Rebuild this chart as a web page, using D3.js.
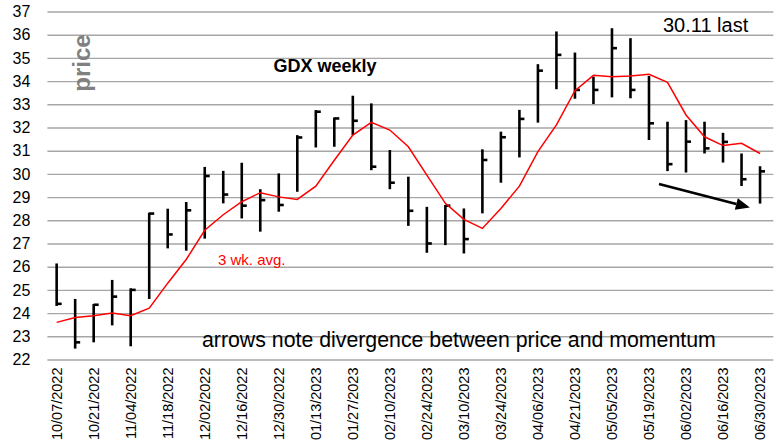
<!doctype html>
<html lang="en-US">
<head>
  <meta charset="utf-8">
  <title>GDX weekly</title>
  <script src="https://d3js.org/d3.v7.min.js"></script>
  <style>
    body { margin: 0; background: #fff; }
    svg { display: block; font-family: "Liberation Sans", Arial, sans-serif; }
  </style>
</head>
<body>
<svg width="781" height="444"></svg>
<script>
// weekly bars, 10/07/2022 .. 06/30/2023
var dates = ["10/07/2022","10/14/2022","10/21/2022","10/28/2022","11/04/2022","11/11/2022","11/18/2022","11/25/2022",
  "12/02/2022","12/09/2022","12/16/2022","12/23/2022","12/30/2022","01/06/2023","01/13/2023","01/20/2023",
  "01/27/2023","02/03/2023","02/10/2023","02/17/2023","02/24/2023","03/03/2023","03/10/2023","03/17/2023",
  "03/24/2023","03/31/2023","04/06/2023","04/14/2023","04/21/2023","04/28/2023","05/05/2023","05/12/2023",
  "05/19/2023","05/26/2023","06/02/2023","06/09/2023","06/16/2023","06/23/2023","06/30/2023"];

var highs = [26.14, 24.61, 24.39, 25.43, 25.07, 28.33, 28.50, 28.79, 30.30, 30.13, 30.48, 29.34, 30.02,
  31.67, 32.75, 32.43, 33.37, 33.04, 31.03, 29.88, 28.58, 28.66, 28.51, 31.06, 31.82, 32.76,
  34.73, 36.14, 35.23, 34.19, 36.28, 35.85, 34.22, 32.25, 32.32, 32.25, 31.77, 30.88, 30.33];

var lows = [24.31, 22.47, 22.74, 23.47, 22.57, 24.61, 26.79, 26.69, 27.21, 28.73, 28.08, 27.51, 28.37,
  29.23, 31.14, 31.17, 31.67, 30.16, 29.34, 27.76, 26.60, 26.93, 26.57, 28.30, 29.62, 30.71,
  32.21, 33.65, 33.24, 33.01, 33.30, 33.26, 31.46, 30.12, 30.06, 30.88, 30.49, 29.48, 28.72];

var closes = [24.40, 22.74, 24.36, 24.71, 25.00, 28.29, 27.39, 28.43, 29.91, 29.11, 28.63, 28.87, 28.66,
  31.57, 32.68, 32.39, 32.29, 30.31, 29.62, 28.41, 27.00, 28.63, 27.19, 30.60, 31.58, 32.37,
  34.45, 35.13, 33.62, 33.62, 35.42, 33.62, 32.18, 30.42, 31.39, 31.10, 31.38, 29.77, 30.11];

// 3 wk. avg.
var avg3 = [23.60, 23.81, 23.89, 24.00, 23.89, 24.21, 25.29, 26.31, 27.57, 28.24, 28.80, 29.19, 29.01,
  28.90, 29.47, 30.59, 31.67, 32.22, 31.89, 31.17, 29.95, 28.73, 28.04, 27.65, 28.51, 29.47,
  30.96, 32.11, 33.59, 34.25, 34.19, 34.22, 34.29, 33.95, 32.54, 31.60, 31.22, 31.32, 30.88];

var yTicks = d3.range(22, 38, 1);

var svg = d3.select("svg");
var plotL = 47.4, plotR = 769.3, plotT = 11.5, plotB = 359.5;

var x = d3.scaleBand().domain(d3.range(dates.length)).range([plotL, plotR]).padding(0);
var y = d3.scaleLinear().domain([22, 37]).range([plotB, plotT]);
var cx = function(i) { return x(i) + x.bandwidth() / 2; };

// gridlines + y labels
var yAxis = svg.append("g")
  .attr("transform", "translate(" + plotL + ",0)")
  .call(d3.axisLeft(y).tickValues(yTicks).tickSize(-(plotR + 4 - plotL)).tickPadding(17).tickFormat(d3.format("d")));
yAxis.select(".domain").remove();
yAxis.selectAll("line").attr("stroke", "#a6a6a6").attr("stroke-width", 1.4);
yAxis.selectAll("text").attr("font-size", 16).attr("fill", "#000");

// x labels (every other week)
var xAxis = svg.append("g")
  .attr("transform", "translate(0," + (plotB + 8) + ")")
  .call(d3.axisBottom(x).tickValues(d3.range(0, dates.length, 2)).tickSize(0)
    .tickFormat(function(i) { return dates[i]; }));
xAxis.select(".domain").remove();
xAxis.selectAll("text")
  .attr("font-size", 14.5)
  .attr("fill", "#000")
  .attr("text-anchor", "end")
  .attr("transform", "rotate(-90)")
  .attr("x", 0).attr("y", 0).attr("dy", "0.35em");

// high-low bars
var bars = svg.append("g");
bars.selectAll(".hl").data(dates).enter().append("line")
  .attr("x1", function(d, i) { return cx(i); })
  .attr("x2", function(d, i) { return cx(i); })
  .attr("y1", function(d, i) { return y(highs[i]); })
  .attr("y2", function(d, i) { return y(lows[i]); })
  .attr("stroke", "#000").attr("stroke-width", 2.6);

// close ticks
bars.selectAll(".cl").data(dates).enter().append("line")
  .attr("x1", function(d, i) { return cx(i); })
  .attr("x2", function(d, i) { return cx(i) + 5; })
  .attr("y1", function(d, i) { return y(closes[i]); })
  .attr("y2", function(d, i) { return y(closes[i]); })
  .attr("stroke", "#000").attr("stroke-width", 2.6);

// 3 week average line
var line = d3.line()
  .x(function(d, i) { return cx(i); })
  .y(function(d) { return y(d); });
svg.append("path").datum(avg3)
  .attr("d", line)
  .attr("fill", "none")
  .attr("stroke", "#ff0000")
  .attr("stroke-width", 1.5);

// annotations
svg.append("text")
  .attr("transform", "translate(90,63) rotate(-90)")
  .attr("text-anchor", "middle")
  .attr("font-size", 24).attr("font-weight", "bold").attr("fill", "#808080")
  .text("price");

svg.append("text").attr("x", 325).attr("y", 72).attr("text-anchor", "middle")
  .attr("font-size", 18).attr("font-weight", "bold").text("GDX weekly");

svg.append("text").attr("x", 663).attr("y", 32)
  .attr("font-size", 20).text("30.11 last");

svg.append("text").attr("x", 218).attr("y", 265)
  .attr("font-size", 15).attr("fill", "#ff0000").text("3 wk. avg.");

svg.append("text").attr("x", 202).attr("y", 347)
  .attr("font-size", 21.3).text("arrows note divergence between price and momentum");

// divergence arrow (in data units: bar index, price)
var arrowFrom = [32.54, 29.56], arrowTo = [37.45, 28.55];
var ax1 = cx(0) + arrowFrom[0] * x.step(), ay1 = y(arrowFrom[1]);
var ax2 = cx(0) + arrowTo[0] * x.step(), ay2 = y(arrowTo[1]);
var ang = Math.atan2(ay2 - ay1, ax2 - ax1);
var hl = 14, hw = 6;
var bx = ax2 - hl * Math.cos(ang), by = ay2 - hl * Math.sin(ang);
svg.append("line")
  .attr("x1", ax1).attr("y1", ay1).attr("x2", bx).attr("y2", by)
  .attr("stroke", "#000").attr("stroke-width", 2.6);
svg.append("path")
  .attr("d", "M" + ax2 + "," + ay2 +
    "L" + (bx + hw * Math.sin(ang)) + "," + (by - hw * Math.cos(ang)) +
    "L" + (bx - hw * Math.sin(ang)) + "," + (by + hw * Math.cos(ang)) + "Z")
  .attr("fill", "#000");
</script>
</body>
</html>
